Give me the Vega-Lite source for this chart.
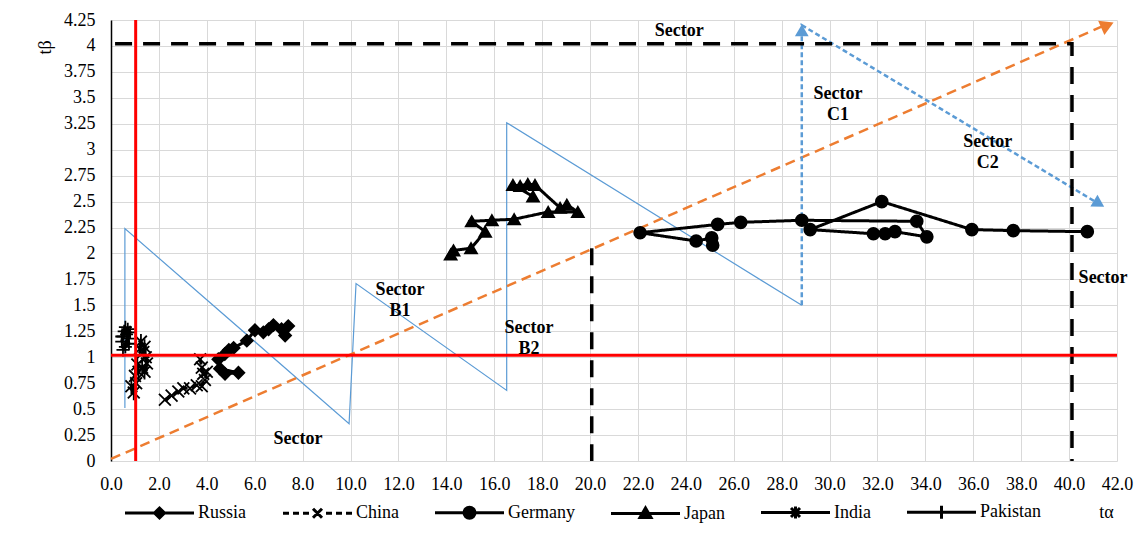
{
  "$schema": "https://vega.github.io/schema/vega-lite/v6.json",
  "width": 1006,
  "height": 441,
  "autosize": {"type": "none"},
  "padding": {"left": 111, "top": 20, "right": 18, "bottom": 76},
  "background": "white",
  "config": {
    "view": {"stroke": null},
    "font": "Liberation Serif",
    "axis": {
      "labelFont": "Liberation Serif",
      "labelFontSize": 18,
      "labelColor": "black",
      "titleFont": "Liberation Serif",
      "titleFontSize": 18,
      "titleFontWeight": "normal",
      "titleColor": "black",
      "gridColor": "#d9d9d9",
      "gridWidth": 1,
      "gridOpacity": 1,
      "ticks": false,
      "labelFlush": false,
      "labelOverlap": false
    }
  },
  "datasets": {
    "series": [
      {"country": "Russia", "i": 1, "x": 4.76, "y": 0.84},
      {"country": "Russia", "i": 2, "x": 5.32, "y": 0.85},
      {"country": "Russia", "i": 3, "x": 4.55, "y": 0.89},
      {"country": "Russia", "i": 4, "x": 4.48, "y": 0.98},
      {"country": "Russia", "i": 5, "x": 4.75, "y": 1.03},
      {"country": "Russia", "i": 6, "x": 4.92, "y": 1.07},
      {"country": "Russia", "i": 7, "x": 5.12, "y": 1.09},
      {"country": "Russia", "i": 8, "x": 5.67, "y": 1.16},
      {"country": "Russia", "i": 9, "x": 6.01, "y": 1.26},
      {"country": "Russia", "i": 10, "x": 6.36, "y": 1.24},
      {"country": "Russia", "i": 11, "x": 6.58, "y": 1.27},
      {"country": "Russia", "i": 12, "x": 6.78, "y": 1.31},
      {"country": "Russia", "i": 13, "x": 7.12, "y": 1.27},
      {"country": "Russia", "i": 14, "x": 7.27, "y": 1.21},
      {"country": "Russia", "i": 15, "x": 7.4, "y": 1.3},
      {"country": "China", "i": 1, "x": 2.25, "y": 0.59},
      {"country": "China", "i": 2, "x": 2.53, "y": 0.63},
      {"country": "China", "i": 3, "x": 2.81, "y": 0.67},
      {"country": "China", "i": 4, "x": 3.02, "y": 0.7},
      {"country": "China", "i": 5, "x": 3.3, "y": 0.7},
      {"country": "China", "i": 6, "x": 3.58, "y": 0.73},
      {"country": "China", "i": 7, "x": 3.79, "y": 0.72},
      {"country": "China", "i": 8, "x": 3.92, "y": 0.78},
      {"country": "China", "i": 9, "x": 4.0, "y": 0.86},
      {"country": "China", "i": 10, "x": 3.85, "y": 0.84},
      {"country": "China", "i": 11, "x": 3.79, "y": 0.9},
      {"country": "China", "i": 12, "x": 3.72, "y": 0.98},
      {"country": "Germany", "i": 1, "x": 25.12, "y": 2.08},
      {"country": "Germany", "i": 2, "x": 25.08, "y": 2.15},
      {"country": "Germany", "i": 3, "x": 24.43, "y": 2.12},
      {"country": "Germany", "i": 4, "x": 22.09, "y": 2.2},
      {"country": "Germany", "i": 5, "x": 25.33, "y": 2.28},
      {"country": "Germany", "i": 6, "x": 26.29, "y": 2.3},
      {"country": "Germany", "i": 7, "x": 28.84, "y": 2.32},
      {"country": "Germany", "i": 8, "x": 33.64, "y": 2.31},
      {"country": "Germany", "i": 9, "x": 34.06, "y": 2.16},
      {"country": "Germany", "i": 10, "x": 32.73, "y": 2.21},
      {"country": "Germany", "i": 11, "x": 32.32, "y": 2.19},
      {"country": "Germany", "i": 12, "x": 31.83, "y": 2.19},
      {"country": "Germany", "i": 13, "x": 29.19, "y": 2.23},
      {"country": "Germany", "i": 14, "x": 32.18, "y": 2.5},
      {"country": "Germany", "i": 15, "x": 35.94, "y": 2.23},
      {"country": "Germany", "i": 16, "x": 37.67, "y": 2.22},
      {"country": "Germany", "i": 17, "x": 40.76, "y": 2.21},
      {"country": "Japan", "i": 1, "x": 14.18, "y": 1.99},
      {"country": "Japan", "i": 2, "x": 14.3, "y": 2.03},
      {"country": "Japan", "i": 3, "x": 15.03, "y": 2.05},
      {"country": "Japan", "i": 4, "x": 15.62, "y": 2.21},
      {"country": "Japan", "i": 5, "x": 15.06, "y": 2.31},
      {"country": "Japan", "i": 6, "x": 15.9, "y": 2.32},
      {"country": "Japan", "i": 7, "x": 16.83, "y": 2.33},
      {"country": "Japan", "i": 8, "x": 18.25, "y": 2.4},
      {"country": "Japan", "i": 9, "x": 19.49, "y": 2.4},
      {"country": "Japan", "i": 10, "x": 19.03, "y": 2.47},
      {"country": "Japan", "i": 11, "x": 18.75, "y": 2.44},
      {"country": "Japan", "i": 12, "x": 17.7, "y": 2.66},
      {"country": "Japan", "i": 13, "x": 17.4, "y": 2.67},
      {"country": "Japan", "i": 14, "x": 17.08, "y": 2.65},
      {"country": "Japan", "i": 15, "x": 16.78, "y": 2.66},
      {"country": "Japan", "i": 16, "x": 17.62, "y": 2.55},
      {"country": "India", "i": 1, "x": 0.85, "y": 0.72},
      {"country": "India", "i": 2, "x": 0.95, "y": 0.66},
      {"country": "India", "i": 3, "x": 1.05, "y": 0.75},
      {"country": "India", "i": 4, "x": 1.0, "y": 0.82},
      {"country": "India", "i": 5, "x": 1.15, "y": 0.86},
      {"country": "India", "i": 6, "x": 1.1, "y": 0.93},
      {"country": "India", "i": 7, "x": 1.3, "y": 0.9},
      {"country": "India", "i": 8, "x": 1.4, "y": 0.86},
      {"country": "India", "i": 9, "x": 1.5, "y": 0.94},
      {"country": "India", "i": 10, "x": 1.45, "y": 1.0},
      {"country": "India", "i": 11, "x": 1.35, "y": 1.05},
      {"country": "India", "i": 12, "x": 1.4, "y": 1.1},
      {"country": "India", "i": 13, "x": 1.25, "y": 1.15},
      {"country": "India", "i": 14, "x": 1.2, "y": 1.08},
      {"country": "Pakistan", "i": 1, "x": 0.45, "y": 1.15},
      {"country": "Pakistan", "i": 2, "x": 0.5, "y": 1.2},
      {"country": "Pakistan", "i": 3, "x": 0.55, "y": 1.25},
      {"country": "Pakistan", "i": 4, "x": 0.6, "y": 1.29},
      {"country": "Pakistan", "i": 5, "x": 0.65, "y": 1.22},
      {"country": "Pakistan", "i": 6, "x": 0.7, "y": 1.18},
      {"country": "Pakistan", "i": 7, "x": 0.75, "y": 1.13},
      {"country": "Pakistan", "i": 8, "x": 0.6, "y": 1.1},
      {"country": "Pakistan", "i": 9, "x": 0.5, "y": 1.07},
      {"country": "Pakistan", "i": 10, "x": 0.8, "y": 1.24},
      {"country": "Pakistan", "i": 11, "x": 0.7, "y": 1.27},
      {"country": "Pakistan", "i": 12, "x": 0.45, "y": 1.2}
    ],
    "saw": [
      {"o": 1, "x": 0.58, "y": 0.51},
      {"o": 2, "x": 0.58, "y": 2.24},
      {"o": 3, "x": 9.94, "y": 0.36},
      {"o": 4, "x": 10.23, "y": 1.71},
      {"o": 5, "x": 16.52, "y": 0.68},
      {"o": 6, "x": 16.52, "y": 3.26},
      {"o": 7, "x": 28.84, "y": 1.5}
    ],
    "orange": [
      {"o": 1, "x": 0, "y": 0.02},
      {"o": 2, "x": 41.6, "y": 4.21}
    ],
    "bluedash": [
      {"o": 1, "x": 28.84, "y": 1.5},
      {"o": 2, "x": 28.84, "y": 4.2},
      {"o": 3, "x": 41.3, "y": 2.47}
    ],
    "blackdash": [
      {"seg": "a", "o": 1, "x": 0.17, "y": 4.02},
      {"seg": "a", "o": 2, "x": 40.12, "y": 4.02},
      {"seg": "a", "o": 3, "x": 40.12, "y": 0},
      {"seg": "b", "o": 1, "x": 20.07, "y": 2.05},
      {"seg": "b", "o": 2, "x": 20.07, "y": 0}
    ],
    "red": [
      {"seg": "v", "o": 1, "x": 1.03, "y": 0},
      {"seg": "v", "o": 2, "x": 1.03, "y": 4.25},
      {"seg": "h", "o": 1, "x": 0, "y": 1.02},
      {"seg": "h", "o": 2, "x": 42, "y": 1.02}
    ],
    "arrows": [
      {"a": "orange", "x": 41.6, "y": 4.2},
      {"a": "up", "x": 28.84, "y": 4.15},
      {"a": "diag", "x": 41.25, "y": 2.48}
    ],
    "labels": [
      {"t": "Sector", "x": 7.81, "y": 0.21},
      {"t": "Sector\nB1", "x": 12.07, "y": 1.65},
      {"t": "Sector\nB2", "x": 17.45, "y": 1.28},
      {"t": "Sector", "x": 23.72, "y": 4.14},
      {"t": "Sector\nC1", "x": 30.35, "y": 3.54},
      {"t": "Sector\nC2", "x": 36.6, "y": 3.07},
      {"t": "Sector", "x": 41.42, "y": 1.76}
    ]
  },
  "encoding": {
    "x": {
      "field": "x",
      "type": "quantitative",
      "scale": {"domain": [0, 42], "nice": false, "zero": false},
      "axis": {
        "title": "tα",
        "values": [0, 2, 4, 6, 8, 10, 12, 14, 16, 18, 20, 22, 24, 26, 28, 30, 32, 34, 36, 38, 40, 42],
        "format": ".1f",
        "domain": false,
        "grid": true,
        "labelPadding": 14,
        "titleX": 995,
        "titleY": 51,
        "titleAlign": "center",
        "titleBaseline": "middle",
        "titleAngle": 0
      }
    },
    "y": {
      "field": "y",
      "type": "quantitative",
      "scale": {"domain": [0, 4.25], "nice": false, "zero": false},
      "axis": {
        "title": "tβ",
        "values": [0, 0.25, 0.5, 0.75, 1, 1.25, 1.5, 1.75, 2, 2.25, 2.5, 2.75, 3, 3.25, 3.5, 3.75, 4, 4.25],
        "labelExpr": "'' + datum.value",
        "domain": true,
        "domainColor": "black",
        "domainWidth": 1.5,
        "grid": true,
        "labelPadding": 16,
        "titleX": -66,
        "titleY": 27,
        "titleAlign": "center",
        "titleBaseline": "middle",
        "titleAngle": -90
      }
    }
  },
  "layer": [
    {
      "data": {"name": "saw"},
      "mark": {"type": "line", "color": "#5b9bd5", "strokeWidth": 1.2},
      "encoding": {"order": {"field": "o", "type": "quantitative"}}
    },
    {
      "data": {"name": "orange"},
      "mark": {"type": "line", "color": "#ed7d31", "strokeWidth": 2.5, "strokeDash": [10, 6]},
      "encoding": {"order": {"field": "o", "type": "quantitative"}}
    },
    {
      "data": {"name": "bluedash"},
      "mark": {"type": "line", "color": "#5b9bd5", "strokeWidth": 2.5, "strokeDash": [5, 3]},
      "encoding": {"order": {"field": "o", "type": "quantitative"}}
    },
    {
      "data": {"name": "blackdash"},
      "mark": {"type": "line", "color": "black", "strokeWidth": 3.5, "strokeDash": [17, 11]},
      "encoding": {
        "detail": {"field": "seg", "type": "nominal"},
        "order": {"field": "o", "type": "quantitative"}
      }
    },
    {
      "data": {"name": "series"},
      "mark": {"type": "line", "color": "black", "strokeWidth": 3},
      "encoding": {
        "strokeDash": {
          "field": "country",
          "type": "nominal",
          "scale": {
            "domain": ["Russia", "China", "Germany", "Japan", "India", "Pakistan"],
            "range": [[1, 0], [6, 4], [1, 0], [1, 0], [1, 0], [1, 0]]
          },
          "legend": null
        },
        "order": {"field": "i", "type": "quantitative"}
      }
    },
    {
      "data": {"name": "series"},
      "mark": {"type": "point", "filled": true, "fill": "black", "stroke": "black", "strokeWidth": 1.8, "size": 140, "opacity": 1},
      "encoding": {
        "shape": {
          "field": "country",
          "type": "nominal",
          "scale": {
            "domain": ["Russia", "China", "Germany", "Japan", "India", "Pakistan"],
            "range": ["diamond", "M-1,-1L1,1M-1,1L1,-1", "circle", "triangle-up", "M-1,-1L1,1M-1,1L1,-1M0,-1.3V1.3", "M-1.1,0H1.1M0,-1.1V1.1"]
          },
          "legend": null
        }
      }
    },
    {
      "data": {"name": "red"},
      "mark": {"type": "line", "color": "#ff0000", "strokeWidth": 3},
      "encoding": {
        "detail": {"field": "seg", "type": "nominal"},
        "order": {"field": "o", "type": "quantitative"}
      }
    },
    {
      "data": {"name": "labels"},
      "mark": {"type": "text", "font": "Liberation Serif", "fontSize": 18, "fontWeight": "bold", "color": "black", "align": "center", "baseline": "middle", "lineBreak": "\n", "lineHeight": 21},
      "encoding": {"text": {"field": "t", "type": "nominal"}}
    },
    {
      "data": {"name": "arrows"},
      "transform": [{"filter": "datum.a === 'orange'"}],
      "mark": {"type": "point", "shape": "triangle-up", "filled": true, "fill": "#ed7d31", "size": 240, "angle": 66.3, "opacity": 1}
    },
    {
      "data": {"name": "arrows"},
      "transform": [{"filter": "datum.a === 'up'"}],
      "mark": {"type": "point", "shape": "triangle-up", "filled": true, "fill": "#5b9bd5", "size": 190, "angle": 0, "opacity": 1}
    },
    {
      "data": {"name": "arrows"},
      "transform": [{"filter": "datum.a === 'diag'"}],
      "mark": {"type": "point", "shape": "triangle-up", "filled": true, "fill": "#5b9bd5", "size": 190, "angle": 121, "opacity": 1}
    },
    {
      "data": {"name": "series"},
      "transform": [{"filter": "datum.x < -100"}],
      "mark": {"type": "point", "filled": false, "color": "black", "strokeWidth": 3, "opacity": 1},
      "encoding": {
        "shape": {
          "field": "country",
          "type": "nominal",
          "scale": {
            "domain": ["Russia", "China", "Germany", "Japan", "India", "Pakistan"],
            "range": [
              "M0,0H69M29.5,0L34.5,-5L39.5,0L34.5,5ZM31.5,0L34.5,-3L37.5,0L34.5,3ZM33.5,0L34.5,-1L35.5,0L34.5,1Z",
              "M0,0H6M10,0H16M20,0H26M30,-4.5L39,4.5M30,4.5L39,-4.5M43,0H49M53,0H59M63,0H69",
              "M0,0H69M29,0A5.5,5.5,0,1,0,40,0A5.5,5.5,0,1,0,29,0ZM31.5,0A3,3,0,1,0,37.5,0A3,3,0,1,0,31.5,0ZM33.5,0A1,1,0,1,0,35.5,0A1,1,0,1,0,33.5,0Z",
              "M0,0H69M34.5,-5.5L40,4L29,4ZM34.5,-2.3L37.2,2.4L31.8,2.4ZM34.5,0.2L35.3,1.6L33.7,1.6Z",
              "M0,0H69M30,-4.5L39,4.5M30,4.5L39,-4.5M34.5,-6V6",
              "M0,0H69M34.5,-6.5V6.5"
            ]
          },
          "legend": {
            "title": null,
            "orient": "none",
            "legendX": 5,
            "legendY": 483,
            "direction": "horizontal",
            "padding": 0,
            "symbolSize": 4,
            "symbolStrokeWidth": 3,
            "symbolFillColor": "black",
            "symbolStrokeColor": "black",
            "symbolOpacity": 1,
            "labelFont": "Liberation Serif",
            "labelFontSize": 18,
            "labelColor": "black",
            "labelOffset": 64,
            "labelLimit": 0,
            "columnPadding": 27
          }
        }
      }
    }
  ],
  "resolve": {"scale": {"shape": "independent", "strokeDash": "independent"}}
}
